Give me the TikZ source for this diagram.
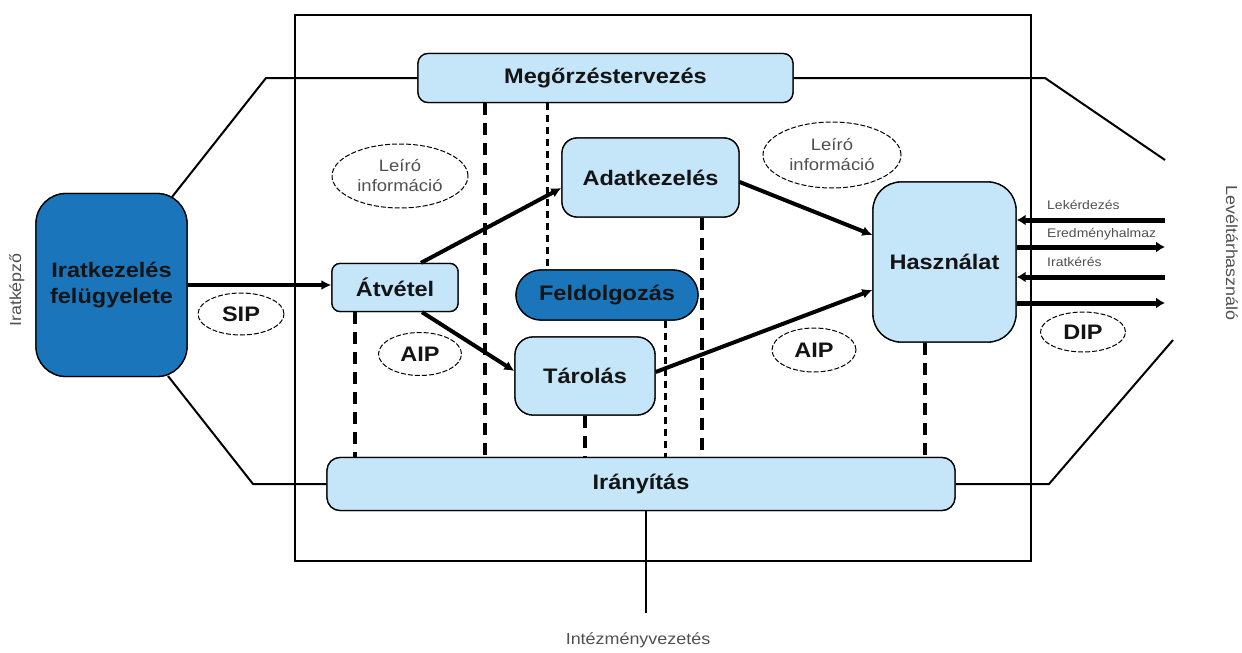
\documentclass[tikz,border=0pt]{standalone}
\usepackage{fontspec}
\setmainfont{Liberation Sans}[FakeStretch=1.12]
\usetikzlibrary{shapes.geometric,arrows.meta}
\definecolor{lightb}{RGB}{197,229,248}
\definecolor{darkb}{RGB}{26,117,187}
\definecolor{txtgrey}{RGB}{80,80,80}
\definecolor{txtdark}{RGB}{20,20,20}
\tikzset{
  pbox/.style={draw=black,line width=1.3pt,fill=lightb,inner sep=0pt,
    font=\fontsize{21}{26}\selectfont\bfseries,text=txtdark,align=center},
  dpbox/.style={pbox,fill=darkb},
  ell/.style={ellipse,draw=black,line width=1pt,dash pattern=on 5pt off 2pt,
    inner sep=0pt,font=\fontsize{21}{24}\selectfont\bfseries,text=txtdark},
  gell/.style={ell,font=\fontsize{16.5}{20}\selectfont,text=txtgrey,align=center},
  flow/.style={line width=4pt,-{Latex[length=10pt,width=10pt]}},
  iflow/.style={line width=5pt,-{Latex[length=9pt,width=11pt]}},
  thickdash/.style={line width=3.6pt,dash pattern=on 12pt off 8pt},
  thindash/.style={line width=3pt,dash pattern=on 7pt off 5pt},
  frame/.style={line width=1.4pt},
  hexline/.style={line width=2pt},
  small/.style={font=\fontsize{12.5}{14}\selectfont,text=txtgrey,inner sep=0pt,anchor=west},
  outer/.style={font=\fontsize{16}{18}\selectfont,text=txtgrey,inner sep=0pt}
}
\begin{document}
\begin{tikzpicture}[x=1pt,y=-1pt]
\useasboundingbox (0,0) rectangle (1242,653);
% frame
\draw[frame] (295,15) rectangle (1031,561);

% nodes (positions)
\path
 node[pbox,rounded corners=10pt,minimum width=375pt,minimum height=49pt] (meg) at (605.5,78) {Megőrzéstervezés}
 node[dpbox,rounded corners=30pt,minimum width=151pt,minimum height=183pt] (irat) at (111.5,285) {Iratkezelés\\felügyelete}
 node[pbox,rounded corners=8pt,minimum width=126pt,minimum height=48pt] (atv) at (395,287.5) {Átvétel}
 node[pbox,rounded corners=15pt,minimum width=177pt,minimum height=79pt] (adat) at (650.5,177.5) {Adatkezelés}
 node[dpbox,rounded corners=25pt,minimum width=182pt,minimum height=50pt] (feld) at (607,295) {Feldolgozás}
 node[pbox,rounded corners=18pt,minimum width=140pt,minimum height=78pt] (tar) at (585,376) {Tárolás}
 node[pbox,rounded corners=28pt,minimum width=143pt,minimum height=160pt] (hasz) at (944.5,262) {Használat}
 node[pbox,rounded corners=13pt,minimum width=628pt,minimum height=53pt] (iran) at (641,484) {Irányítás};

% dashed verticals (behind boxes)
\draw[thickdash] ([xshift=-40pt]atv.south) -- ([xshift=-40pt]atv.south |- iran.north);
\draw[thickdash] ([xshift=-120.5pt]meg.south) -- ([xshift=-120.5pt]meg.south |- iran.north);
\draw[thindash] ([xshift=-58.5pt]meg.south) -- ([xshift=-58.5pt]meg.south |- feld.north);
\draw[thickdash] (tar.south) -- (tar.south |- iran.north);
\draw[thindash] ([xshift=58pt]feld.south) -- ([xshift=58pt]feld.south |- iran.north);
\draw[thickdash] ([xshift=51.5pt]adat.south) -- ([xshift=51.5pt]adat.south |- iran.north);
\draw[thickdash] ([xshift=-19.5pt]hasz.south) -- ([xshift=-19.5pt]hasz.south |- iran.north);

% hexagon outline coordinates
\coordinate (tl) at (266,78);
\coordinate (tlc) at (172,197);
\coordinate (bl) at (253,484);
\coordinate (blc) at (168,376);
\coordinate (tr) at (1045,78);
\coordinate (tre) at (1165,160);
\coordinate (br) at (1049,484);
\coordinate (bre) at (1173,340);
\coordinate (ivb) at (646,613);
\coordinate (ivt) at (646,510);

\draw[hexline] (meg.west) -- (tl) -- (tlc);
\draw[hexline] (meg.east) -- (tr) -- (tre);
\draw[hexline] (blc) -- (bl) -- (iran.west);
\draw[hexline] (iran.east) -- (br) -- (bre);
\draw[hexline] (ivt) -- (ivb);

% redraw boxes on top
\node[pbox,rounded corners=10pt,minimum width=375pt,minimum height=49pt] at (meg) {Megőrzéstervezés};
\node[dpbox,rounded corners=30pt,minimum width=151pt,minimum height=183pt] at (irat) {Iratkezelés\\felügyelete};
\node[pbox,rounded corners=8pt,minimum width=126pt,minimum height=48pt] at (atv) {Átvétel};
\node[pbox,rounded corners=15pt,minimum width=177pt,minimum height=79pt] at (adat) {Adatkezelés};
\node[dpbox,rounded corners=25pt,minimum width=182pt,minimum height=50pt] at (feld) {Feldolgozás};
\node[pbox,rounded corners=18pt,minimum width=140pt,minimum height=78pt] at (tar) {Tárolás};
\node[pbox,rounded corners=28pt,minimum width=143pt,minimum height=160pt] at (hasz) {Használat};
\node[pbox,rounded corners=13pt,minimum width=628pt,minimum height=53pt] at (iran) {Irányítás};

% ellipses
\node[gell,minimum width=136pt,minimum height=64pt] (le1) at (400,176) {Leíró\\információ};
\node[gell,minimum width=138pt,minimum height=66pt] (le2) at (832,155) {Leíró\\információ};
\node[ell,minimum width=86pt,minimum height=42pt] (sip) at (241,314) {SIP};
\node[ell,minimum width=83pt,minimum height=43pt] (aip1) at (420,354) {AIP};
\node[ell,minimum width=84pt,minimum height=44pt] (aip2) at (814,350) {AIP};
\node[ell,minimum width=85pt,minimum height=40pt] (dip) at (1083,332) {DIP};

% flows
\draw[flow] (irat.east) -- (irat.east -| atv.west);
\draw[flow] ([xshift=26pt]atv.north) -- ([yshift=-10.5pt]adat.west);
\draw[flow] ([xshift=27pt]atv.south) -- ([yshift=5pt]tar.west);
\draw[flow] ([yshift=-4.5pt]adat.east) -- ([yshift=27pt]hasz.west);
\draw[flow] ([yshift=4pt]tar.east) -- ([yshift=-28pt]hasz.west);

% user interface arrows
\coordinate (u1) at (1165,220);
\coordinate (u2) at (1165,247);
\coordinate (u3) at (1165,277);
\coordinate (u4) at (1165,303);
\draw[iflow] (u1) -- (u1 -| hasz.east);
\draw[iflow] (u2 -| hasz.east) -- (u2);
\draw[iflow] (u3) -- (u3 -| hasz.east);
\draw[iflow] (u4 -| hasz.east) -- (u4);
\node[small] (lk) at (1047,205) {Lekérdezés};
\node[small] (eh) at (1047,234) {Eredményhalmaz};
\node[small] (ik) at (1047,262) {Iratkérés};

% outer labels
\node[outer,rotate=90] (ikp) at (17,290) {Iratképző};
\node[outer,rotate=-90] (lvh) at (1232,253) {Levéltárhasználó};
\node[outer] (iv) at (638,640) {Intézményvezetés};
\end{tikzpicture}
\end{document}
